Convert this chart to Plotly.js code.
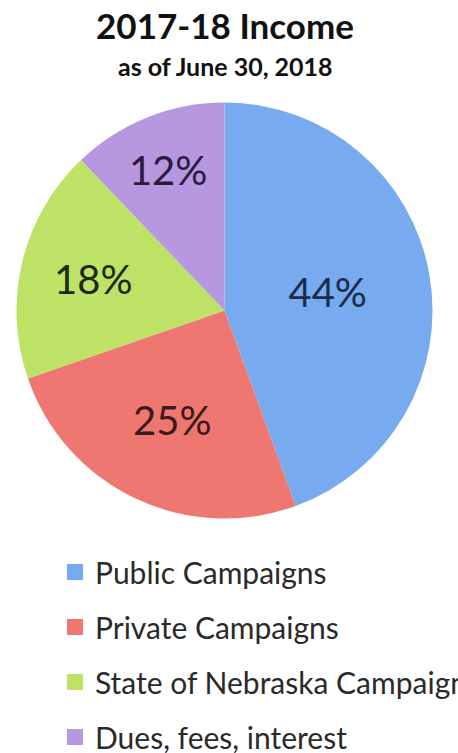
<!DOCTYPE html>
<html>
<head>
<meta charset="utf-8">
<script src="https://cdn.plot.ly/plotly-3.0.1.min.js"></script>
<style>html,body{margin:0;padding:0;background:#fff;}#chart{width:458px;height:753px;}</style>
</head>
<body>
<div id="chart"></div>
<script>
const categories = ["Public Campaigns", "Private Campaigns", "State of Nebraska Campaign", "Dues, fees, interest"];
const values = [44, 25, 18, 12];
const sliceColors = ["#77aaee", "#ee7772", "#bde266", "#b697e0"];
const labelColors = ["#1c2c4c", "#3a1a1a", "#1e2a10", "#2a1a40"];
const titleText = "2017-18 Income";
const subtitleText = "as of June 30, 2018";

const W = 458, H = 753;
const font = "Lato, 'Open Sans', sans-serif";

const pie = {
  type: "pie",
  labels: categories,
  values: values,
  sort: false,
  direction: "clockwise",
  rotation: 0,
  marker: {colors: sliceColors, line: {width: 0}},
  texttemplate: "%{percent:.0%}",
  textposition: "inside",
  insidetextorientation: "horizontal",
  textfont: {family: font, size: 40, color: labelColors},
  showlegend: false,
  hoverinfo: "label+percent",
  domain: {x: [16.5 / W, 432.5 / W], y: [1 - 518.5 / H, 1 - 102.5 / H]}
};

const legendTraces = categories.map((c, i) => ({
  type: "scatter",
  mode: "markers",
  x: [null], y: [null],
  name: c,
  legendgroup: "g" + i,
  marker: {symbol: "square", size: 18, color: sliceColors[i]},
  showlegend: true,
  hoverinfo: "skip"
}));

const layout = {
  width: W, height: H,
  margin: {l: 0, r: 0, t: 0, b: 0, autoexpand: false},
  paper_bgcolor: "#ffffff",
  plot_bgcolor: "#ffffff",
  font: {family: font, color: "#222"},
  title: {
    text: "<b>" + titleText + "</b>",
    font: {family: font, size: 35, color: "#111"},
    x: 225 / W, xanchor: "center",
    y: 1 - 27 / H, yanchor: "middle", yref: "paper"
  },
  annotations: [{
    text: "<b>" + subtitleText + "</b>",
    xref: "paper", yref: "paper",
    x: 225 / W, y: 1 - 66 / H, xanchor: "center", yanchor: "middle",
    showarrow: false,
    font: {family: font, size: 25, color: "#111"}
  }],
  xaxis: {visible: false, range: [0, 1], fixedrange: true},
  yaxis: {visible: false, range: [0, 1], fixedrange: true},
  showlegend: true,
  legend: {
    x: 55 / W, y: 1 - 546 / H, xanchor: "left", yanchor: "top",
    orientation: "v",
    traceorder: "grouped",
    tracegroupgap: 13,
    font: {family: font, size: 30, color: "#2a2a2a"},
    bgcolor: "rgba(0,0,0,0)",
    itemclick: false, itemdoubleclick: false
  }
};

Plotly.newPlot("chart", [pie].concat(legendTraces), layout, {displayModeBar: false, staticPlot: true});
</script>
</body>
</html>
